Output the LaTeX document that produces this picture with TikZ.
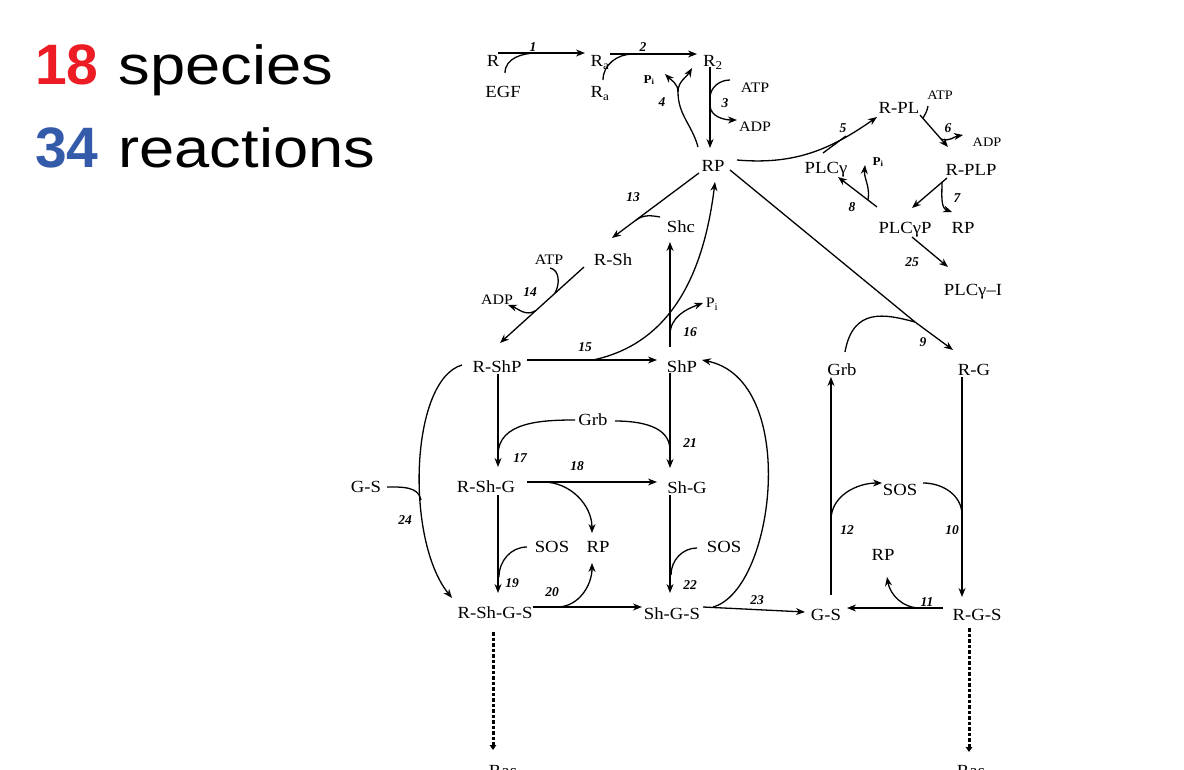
\documentclass[tikz,border=0pt]{standalone}
\usepackage{fontspec}
\setmainfont{Liberation Serif}
\newfontfamily\spf[FakeStretch=1.1]{Liberation Serif}
\newfontfamily\tsf{Liberation Sans}
\newfontfamily\tsw[FakeStretch=1.15]{Liberation Sans}
\usetikzlibrary{arrows.meta,calc}
\definecolor{tred}{RGB}{237,28,36}
\definecolor{tblue}{RGB}{52,90,170}
\begin{document}
\begin{tikzpicture}[x=1pt,y=-1pt,
  sp/.style={font={\spf\fontsize{17pt}{20pt}\selectfont},inner sep=1pt,text height=11.5pt,text depth=0pt},
  sm/.style={font={\spf\fontsize{14.5pt}{17pt}\selectfont},inner sep=1pt,text height=9.8pt,text depth=0pt},
  tn/.style={font={\spf\fontsize{13pt}{15pt}\selectfont},inner sep=1pt,text height=8.8pt,text depth=0pt},
  pis/.style={font={\spf\bfseries\fontsize{12pt}{14pt}\selectfont},inner sep=1pt},
  num/.style={font={\bfseries\itshape\fontsize{13.5pt}{15pt}\selectfont},inner sep=0pt},
  ttl/.style={anchor=base west,inner sep=0pt},
  ln/.style={line width=1.3pt},
  rx/.style={line width=1.3pt,-{Stealth[length=9pt,width=7pt]}},
  dsh/.style={line width=3pt,dash pattern=on 3.5pt off 2pt,-{Triangle[length=5pt,width=6.5pt]}}
]
\fill[white] (0,0) rectangle (1184,770);
\useasboundingbox (0,0) rectangle (1184,770);

% title
\node[ttl] (t1) at (35,85) {\tsf\bfseries\fontsize{57pt}{66pt}\selectfont\textcolor{tred}{18}\hspace{20pt}\tsw\mdseries\fontsize{55pt}{66pt}\selectfont species};
\node[ttl] (t2) at (35,168) {\tsf\bfseries\fontsize{57pt}{66pt}\selectfont\textcolor{tblue}{34}\hspace{20pt}\tsw\mdseries\fontsize{55pt}{66pt}\selectfont reactions};

% species
\node[sp] (nR) at (493,61) {R};
\node[sp] (nEGF) at (503,92) {EGF};
\node[sp] (nRa1) at (600,61) {R\textsubscript{a}};
\node[sp] (nRa2) at (600,92) {R\textsubscript{a}};
\node[sp] (nR2) at (713,61) {R\textsubscript{2}};
\node[pis] (nPiA) at (649,80) {P\textsubscript{i}};
\node[sm] (nATPa) at (755,88) {ATP};
\node[sm] (nADPa) at (755,127) {ADP};
\node[sp] (nRP) at (713,166) {RP};
\node[sp] (nRPL) at (899,108) {R-PL};
\node[tn] (nATPb) at (940,95) {ATP};
\node[tn] (nADPb) at (987,142) {ADP};
\node[sp] (nRPLP) at (971,170) {R-PLP};
\node[sp] (nPLCg) at (826,168) {PLCγ};
\node[pis] (nPiB) at (878,162) {P\textsubscript{i}};
\node[sp] (nPLCgP) at (905,228) {PLCγP};
\node[sp] (nRPb) at (963,228) {RP};
\node[sp] (nPLCgI) at (973,290) {PLCγ–I};
\node[sp] (nShc) at (681,227) {Shc};
\node[sp] (nRSh) at (613,260) {R-Sh};
\node[sm] (nATPc) at (549,260) {ATP};
\node[sm] (nADPc) at (497,300) {ADP};
\node[sm] (nPiC) at (712,303) {P\textsubscript{i}};
\node[sp] (nRShP) at (497,367) {R-ShP};
\node[sp] (nShP) at (682,367) {ShP};
\node[sp] (nGrbA) at (593,420) {Grb};
\node[sp] (nRShG) at (486,487) {R-Sh-G};
\node[sp] (nShG) at (687,488) {Sh-G};
\node[sp] (nGSa) at (366,487) {G-S};
\node[sp] (nSOSa) at (552,547) {SOS};
\node[sp] (nRPc) at (598,547) {RP};
\node[sp] (nSOSb) at (724,547) {SOS};
\node[sp] (nRShGS) at (495,613) {R-Sh-G-S};
\node[sp] (nShGS) at (672,614) {Sh-G-S};
\node[sp] (nGrbB) at (842,370) {Grb};
\node[sp] (nRG) at (974,370) {R-G};
\node[sp] (nSOSc) at (900,490) {SOS};
\node[sp] (nRPd) at (883,555) {RP};
\node[sp] (nGSb) at (826,615) {G-S};
\node[sp] (nRGS) at (977,615) {R-G-S};
\node[sp,anchor=base] (nRasA) at (503,776) {Ras};
\node[sp,anchor=base] (nRasB) at (971,776) {Ras};

% reaction numbers
\node[num] (l1) at (533,47) {1};
\node[num] (l2) at (643,47) {2};
\node[num] (l3) at (725,103) {3};
\node[num] (l4) at (662,102) {4};
\node[num] (l5) at (843,128) {5};
\node[num] (l6) at (948,128) {6};
\node[num] (l7) at (957,198) {7};
\node[num] (l8) at (852,207) {8};
\node[num] (l9) at (923,342) {9};
\node[num] (l10) at (952,530) {10};
\node[num] (l11) at (927,602) {11};
\node[num] (l12) at (847,530) {12};
\node[num] (l13) at (633,197) {13};
\node[num] (l14) at (530,292) {14};
\node[num] (l15) at (585,347) {15};
\node[num] (l16) at (690,332) {16};
\node[num] (l17) at (520,458) {17};
\node[num] (l18) at (577,466) {18};
\node[num] (l19) at (512,583) {19};
\node[num] (l20) at (552,592) {20};
\node[num] (l21) at (690,443) {21};
\node[num] (l22) at (690,585) {22};
\node[num] (l23) at (757,600) {23};
\node[num] (l24) at (405,520) {24};
\node[num] (l25) at (912,262) {25};

% junction coordinates
\coordinate (j1) at (537,53);
\coordinate (j2) at (633,54);
\coordinate (j3a) at (710,98);
\coordinate (j3b) at (710,105);
\coordinate (j4) at (678,92);
\coordinate (j5) at (846,136);
\coordinate (j6) at (923,118);
\coordinate (j6b) at (941,139);
\coordinate (j7) at (942,182);
\coordinate (j8) at (868,200);
\coordinate (j9) at (915,322);
\coordinate (j10) at (962,515);
\coordinate (j11) at (920,608);
\coordinate (j12) at (831,520);
\coordinate (j13) at (636,220);
\coordinate (j14) at (555,293);
\coordinate (j14b) at (535,311);
\coordinate (j15) at (593,360);
\coordinate (j16) at (670,335);
\coordinate (j17) at (498,455);
\coordinate (j18) at (543,482);
\coordinate (j19) at (499,577);
\coordinate (j20) at (557,607);
\coordinate (j21) at (670,450);
\coordinate (j22) at (671,575);
\coordinate (j23) at (713,607);
\coordinate (j24) at (421,500);

% 1
\draw[rx] ($(nR)+(5,-8)$) -- ($(nRa1)+(-15,-8)$);
\draw[ln] ($(nEGF)+(2,-19)$) to[out=90,in=180] (j1);
% 2
\draw[rx] ($(nRa1)+(10,-7)$) -- ($(nR2)+(-16,-7)$);
\draw[ln] ($(nRa2)+(3,-12)$) to[out=90,in=180] (j2);
% 3
\draw[rx] ($(nR2)+(-3,6)$) -- ($(nRP)+(-3,-18)$);
\draw[ln] ($(nATPa)+(-25,-8)$) to[out=180,in=90] (j3a);
\draw[rx] (j3b) to[out=-90,in=180] ($(nADPa)+(-18,-7)$);
% 4
\draw[rx] ($(nRP)+(-15,-19)$) to[out=105,in=-90] (j4) to[out=90,in=-120] ($(nR2)+(-21,7)$);
\draw[rx] (j4) to[out=90,in=-45] ($(nPiA)+(16,-6)$);
% 5
\draw[rx] ($(nRP)+(24,-6)$) to[out=-5,in=215] ($(nRPL)+(-22,9)$);
\draw[ln] ($(nPLCg)+(-3,-15)$) -- (j5);
% 6
\draw[rx] ($(nRPL)+(21,7)$) -- ($(nRPLP)+(-23,-23)$);
\draw[ln] ($(nATPb)+(-12,11)$) to[out=-100,in=60] (j6);
\draw[rx] (j6b) to[out=-20,in=190] ($(nADPb)+(-24,-7)$);
% 7
\draw[rx] ($(nRPLP)+(-24,8)$) -- ($(nPLCgP)+(7,-20)$);
\draw[rx] (j7) to[out=-90,in=160] ($(nRPb)+(-11,-16)$);
% 8
\draw[rx] ($(nPLCgP)+(-28,-21)$) -- ($(nPLCg)+(12,9)$);
\draw[rx] (j8) to[out=80,in=-95] ($(nPiB)+(-13,3)$);
% 25
\draw[rx] ($(nPLCgP)+(7,9)$) -- ($(nPLCgI)+(-25,-23)$);
% 9
\draw[ln] ($(nRP)+(17,4)$) -- (j9);
\draw[ln] ($(nGrbB)+(3,-18)$) .. controls (853,307) and (885,314) .. (j9);
\draw[rx] (j9) -- ($(nRG)+(-21,-20)$);
% 10
\draw[rx] ($(nRG)+(-12,7)$) -- ($(nRGS)+(-15,-18)$);
\draw[ln] ($(nSOSc)+(23,-7)$) to[out=0,in=90] (j10);
% 12
\draw[rx] ($(nGSb)+(5,-20)$) -- ($(nGrbB)+(-11,7)$);
\draw[rx] (j12) to[out=90,in=180] ($(nSOSc)+(-18,-7)$);
% 11
\draw[rx] ($(nRGS)+(-34,-7)$) -- ($(nGSb)+(21,-7)$);
\draw[rx] (j11) to[out=180,in=-80] ($(nRPd)+(4,22)$);
% 13
\draw[rx] ($(nRP)+(-14,7)$) -- ($(nRSh)+(-1,-22)$);
\draw[ln] ($(nShc)+(-21,-10)$) to[out=170,in=35] (j13);
% 14
\draw[rx] ($(nRSh)+(-29,7)$) -- ($(nRShP)+(3,-24)$);
\draw[ln] ($(nATPc)+(1,8)$) to[out=-10,in=60] (j14);
\draw[rx] (j14b) to[out=-150,in=-20] ($(nADPc)+(11,5)$);
% 15
\draw[rx] ($(nRShP)+(30,-7)$) -- ($(nShP)+(-25,-7)$);
\draw[rx] (j15) to[out=12,in=-97] ($(nRP)+(2,16)$);
% 16
\draw[rx] ($(nShP)+(-12,-20)$) -- ($(nShc)+(-11,15)$);
\draw[rx] (j16) to[out=90,in=200] ($(nPiC)+(-9,0)$);
% 17
\draw[rx] ($(nRShP)+(1,7)$) -- ($(nRShG)+(12,-20)$);
\draw[ln] ($(nGrbA)+(-18,0)$) to[out=180,in=90] (j17);
% 18
\draw[rx] ($(nRShG)+(41,-5)$) -- ($(nShG)+(-30,-6)$);
\draw[rx] (j18) to[out=0,in=90] ($(nRPc)+(-6,-14)$);
% 19
\draw[rx] ($(nRShG)+(12,8)$) -- ($(nRShGS)+(3,-20)$);
\draw[ln] ($(nSOSa)+(-25,0)$) to[out=180,in=90] (j19);
% 20
\draw[rx] ($(nRShGS)+(38,-6)$) -- ($(nShGS)+(-30,-7)$);
\draw[rx] (j20) to[out=0,in=-90] ($(nRPc)+(-6,16)$);
% 21
\draw[rx] ($(nShP)+(-12,6)$) -- ($(nShG)+(-17,-20)$);
\draw[ln] ($(nGrbA)+(22,1)$) to[out=0,in=90] (j21);
% 22
\draw[rx] ($(nShG)+(-17,7)$) -- ($(nShGS)+(-2,-21)$);
\draw[ln] ($(nSOSb)+(-27,1)$) to[out=180,in=90] (j22);
% 23
\draw[rx] ($(nShGS)+(31,-7)$) -- ($(nGSb)+(-21,-3)$);
\draw[rx] (j23) .. controls (775,590) and (800,380) .. ($(nShP)+(20,-7)$);
% 24
\draw[rx] ($(nRShP)+(-35,-2)$) .. controls (410,380) and (405,540) .. ($(nRShGS)+(-43,-15)$);
\draw[ln] ($(nGSa)+(21,0)$) to[out=0,in=100] (j24);
% to Ras
\draw[dsh] ($(nRShGS)+(-2,19)$) -- ($(nRasA.base)+(-10,-26)$);
\draw[dsh] ($(nRGS)+(-8,13)$) -- ($(nRasB.base)+(-2,-24)$);
\end{tikzpicture}
\end{document}
